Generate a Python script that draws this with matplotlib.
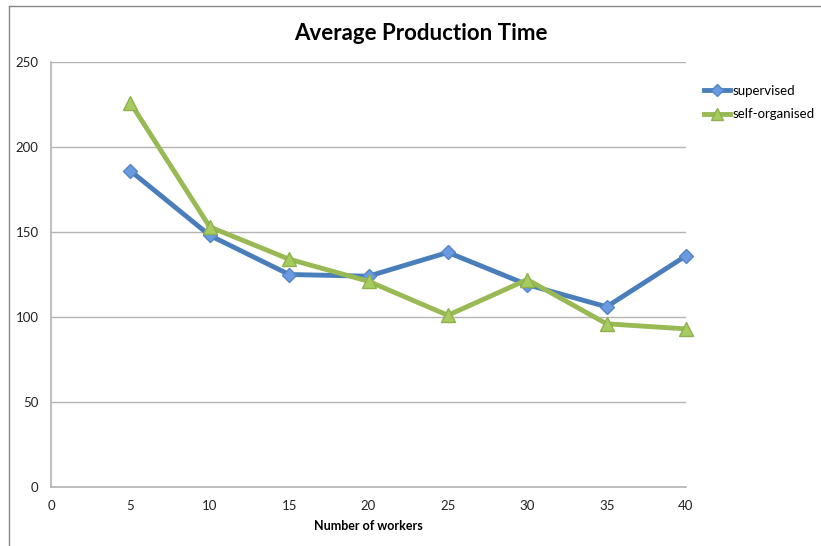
import matplotlib.pyplot as plt
from matplotlib.lines import Line2D

workers = [5, 10, 15, 20, 25, 30, 35, 40]
supervised = [186, 148, 125, 124, 138, 119, 106, 136]
self_organised = [226, 153, 134, 121, 101, 122, 96, 93]
x_ticks = [0, 5, 10, 15, 20, 25, 30, 35, 40]
y_ticks = [0, 50, 100, 150, 200, 250]

plt.rcParams['font.family'] = ['Lato', 'DejaVu Sans']

W, H = 821, 546
fig = plt.figure(figsize=(W / 100, H / 100), dpi=100)
fig.patch.set_facecolor('white')

left, right, bottom, top = 51, 686, 487, 62
ax = fig.add_axes([left / W, 1 - bottom / H, (right - left) / W, (bottom - top) / H])

blue = '#4a7ebb'
blue_face = '#6a9ae0'
green = '#98b954'
green_face = '#a6cc60'

ax.plot(workers, supervised, color=blue, lw=3.5, marker='D', ms=7,
        mfc=blue_face, mec='#5585c5', mew=1, solid_capstyle='round',
        zorder=3, clip_on=False)
ax.plot(workers, self_organised, color=green, lw=3.5, marker='^', ms=10,
        mfc=green_face, mec='#8fb04c', mew=1, solid_capstyle='round',
        zorder=4, clip_on=False)

ax.set_xlim(0, 40)
ax.set_ylim(0, 250)
ax.set_xticks(x_ticks)
ax.set_yticks(y_ticks)
ax.tick_params(length=0, labelsize=9.5, colors='#222222')
ax.tick_params(axis='x', pad=9)
ax.tick_params(axis='y', pad=9)
ax.yaxis.grid(True, color='#b3b3b3', lw=1)
ax.set_axisbelow(True)
for s in ['top', 'right']:
    ax.spines[s].set_visible(False)
for s in ['left', 'bottom']:
    ax.spines[s].set_color('#b3b3b3')
    ax.spines[s].set_linewidth(1.2)

ax.set_xlabel('Number of workers', fontsize=9, fontweight='bold', labelpad=6)
fig.text(421 / W, 1 - 33 / H, 'Average Production Time',
         ha='center', va='center', fontsize=16, fontweight='bold')

handles = [
    Line2D([], [], color=blue, lw=3.5, marker='D', ms=6, mfc=blue_face, mec='#5585c5'),
    Line2D([], [], color=green, lw=3.5, marker='^', ms=8, mfc=green_face, mec='#8fb04c'),
]
fig.legend(handles, ['supervised', 'self-organised'], loc='upper left',
           bbox_to_anchor=(697 / W, 1 - 78 / H), frameon=False, fontsize=9.5,
           handlelength=2.0, handletextpad=0.2, labelspacing=0.9, borderpad=0)

# chart frame edges
fig.add_artist(Line2D([9 / W, 9 / W], [0, 1 - 6 / H], color='#888888', lw=1,
                      transform=fig.transFigure))
fig.add_artist(Line2D([9 / W, 1], [1 - 6 / H, 1 - 6 / H], color='#888888', lw=1,
                      transform=fig.transFigure))

fig.savefig('out.png', dpi=100)
